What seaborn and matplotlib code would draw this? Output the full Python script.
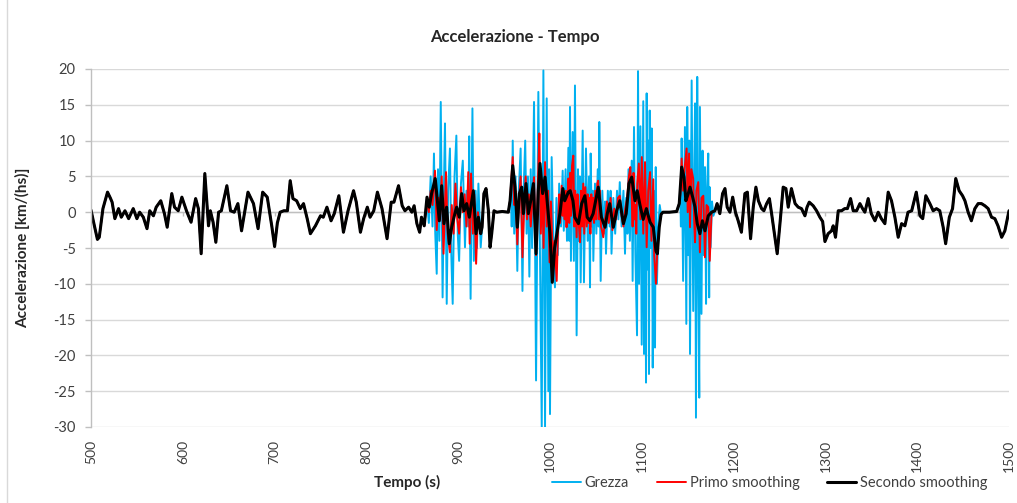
import numpy as np
import pandas as pd
import matplotlib
matplotlib.use("Agg")
import matplotlib.pyplot as plt
from matplotlib.patches import Rectangle
import seaborn as sns

# ---- data: time [s] and acceleration [km/(hs)] ----
# quiet stretch shared by all three series (500-863 s)
t_lead = [500, 503, 507, 509, 513, 518, 521, 523, 526, 530,
          533, 537, 541, 546, 550, 553, 557, 561, 564, 568,
          571, 576, 580, 583, 588, 591, 595, 599, 604, 609,
          614, 617, 620, 624, 628, 630, 633, 636, 639, 642,
          648, 652, 656, 660, 664, 671, 677, 682, 687, 692,
          697, 700, 703, 706, 710, 714, 717, 720, 724, 728,
          731.5, 735.5, 739, 744.5, 750, 753, 757, 761.5, 765, 770,
          775, 780, 786, 789, 793.5, 797, 801, 804, 808, 812,
          817, 822.5, 827, 830, 835, 839, 842, 846, 849.5, 852,
          855, 858, 860, 863]
v_lead = [0.3, -1.5, -3.8, -3.5, 0.5, 2.8, 2.0, 1.4, -0.9, 0.5,
          -0.7, 0.2, -0.9, 0.5, -0.9, 0.0, -0.7, -2.3, 0.2, -0.5,
          0.7, 1.6, -0.2, -2.1, 2.6, 0.7, 0.2, 2.1, 0.2, -1.4,
          1.9, 0.5, -5.8, 5.4, -1.9, 0.2, -1.4, -4.2, 0.0, 0.2,
          3.7, 0.2, 0.0, 1.2, -2.6, 2.8, 1.2, -2.3, 2.8, 2.1,
          -2.0, -4.8, -1.5, 0.0, 0.2, 0.2, 4.4, 1.9, 1.6, 0.5,
          1.2, -0.9, -3.0, -1.9, -0.5, -0.7, 0.7, -1.2, -0.2, 2.3,
          -2.8, 0.2, 3.0, 1.4, -2.8, -0.9, 0.7, -0.7, 0.2, 2.8,
          0.5, -3.7, 1.4, 1.4, 3.7, 0.9, 0.2, 0.7, 0.0, 0.9,
          -1.6, -2.8, -0.7, -1.9]

# calm pauses between the bursts, shared
t_calm_1 = [928, 930.3, 932.9, 934.7, 936.5, 939, 942, 948, 954.6]
v_calm_1 = [2.6, 3.3, 0.2, -4.9, -3.0, 0.2, 0.0, 0.1, 0.0]
t_calm_2 = [1123, 1130, 1138]
v_calm_2 = [0.0, 0.0, 0.1]

# quiet stretch shared by all three series (1182-1500 s)
t_tail = [1182, 1185, 1188, 1190.6, 1193, 1196, 1199, 1202, 1205, 1208.5,
          1212.3, 1215, 1218.5, 1221.4, 1224.3, 1227, 1230.5, 1233, 1236, 1239,
          1241.4, 1244, 1247.5, 1250.5, 1254, 1257, 1259.5, 1263, 1267, 1270.4,
          1274, 1277.7, 1280, 1282.4, 1286.7, 1290.4, 1294, 1297, 1299.5, 1303,
          1306.7, 1308.5, 1311, 1314, 1317.6, 1321, 1324, 1327.4, 1330.3, 1334,
          1337.6, 1340.5, 1343, 1346.6, 1350, 1354, 1357.5, 1361, 1364.8, 1368.4,
          1372, 1375.7, 1379.3, 1383, 1386.6, 1390, 1394, 1399, 1403, 1406,
          1409.4, 1413.8, 1417.4, 1421, 1424.6, 1428.3, 1431, 1435, 1438.5, 1442,
          1445.7, 1449.4, 1452, 1455.5, 1459, 1462.8, 1466.4, 1470, 1473.7, 1477.3,
          1481, 1484.6, 1488, 1492, 1495.5, 1500]
v_tail = [1.2, -0.2, 2.6, 3.3, 0.7, 0.0, 2.1, 0.0, -1.2, -2.8,
          2.6, 2.8, -3.7, 0.7, 3.5, 1.6, 0.5, 0.2, 1.2, 1.9,
          -0.2, -2.6, -5.8, -1.6, 3.5, 3.3, 0.7, 3.3, 1.2, 0.7,
          0.5, -0.5, 0.7, 1.4, 0.9, 0.2, -0.7, -1.3, -4.1, -3.0,
          -2.6, -1.9, -3.5, 0.2, 0.2, 0.5, 0.5, 1.9, 0.2, 0.2,
          1.2, 0.5, 0.0, 1.9, -0.2, -1.2, 0.0, -0.9, -1.6, 2.8,
          1.6, -0.7, -3.5, -1.6, -1.9, 0.0, 0.2, 2.8, -0.5, -0.9,
          2.3, 1.2, 0.2, 0.5, 0.2, -2.1, -4.4, -0.7, 0.5, 4.7,
          3.0, 2.3, 1.6, 0.0, -1.2, 0.5, 1.2, 1.2, 0.9, 0.5,
          -0.7, -0.9, -1.9, -3.5, -2.6, 0.2]

# raw signal ("Grezza") in the three bursts
t_raw_1 = [866, 868, 870, 872, 873.6, 875, 876.6, 878, 879.5, 881,
           883, 884.5, 885.6, 887.5, 889, 891, 892.5, 894, 896, 898,
           899.5, 901, 903, 905, 907.4, 909, 911, 912, 913.5, 915.5,
           917, 919, 920.5, 922, 924.5, 926]
v_raw_1 = [2.0, -1.5, 5.0, -2.0, 8.2, -3.0, -8.6, 6.0, -4.0, 15.4,
           -11.9, 4.0, 12.4, -12.8, 3.0, 8.9, -6.0, -12.8, 5.0, 10.7,
           -3.0, -6.8, 4.0, 7.2, -4.9, 3.0, -2.0, 10.6, -12.1, 14.5,
           -6.8, 3.0, -5.0, 4.0, -4.9, -2.1]
t_raw_2 = [956.5, 957.5, 958.3, 959.4, 961, 962.5, 964.4, 966, 968, 970,
           971.5, 973, 974.5, 976, 977.5, 979, 980.5, 982.6, 984.8, 987.3,
           989, 991, 992.8, 994.6, 996.4, 998.2, 999, 1000, 1001.8, 1003.5,
           1005.4, 1007, 1008.5, 1010, 1012, 1013.8, 1015, 1017, 1018.5, 1020,
           1021, 1021.8, 1022.8, 1024.7, 1026, 1027.2, 1029, 1030.5, 1031.5, 1032.5,
           1033.4, 1035.6, 1037, 1039.2, 1041, 1042.5, 1043.6, 1044.3, 1045.5, 1046.5,
           1047.2, 1049, 1050.5, 1052, 1053, 1053.7, 1055.2, 1057, 1058.5, 1060,
           1061, 1063, 1065, 1066, 1067, 1069, 1071, 1073, 1074.5, 1076,
           1078, 1080, 1081.7, 1083, 1084.3, 1085.5, 1087, 1089, 1090, 1091.5,
           1093, 1094.8, 1095.9, 1097, 1098.5, 1099.9, 1101.6, 1102.4, 1103.5, 1104.6,
           1105.3, 1106.5, 1107.2, 1107.8, 1108.6, 1109.5, 1110.8, 1111.9, 1113, 1114.4,
           1115.2, 1116.5, 1118, 1119.5, 1121]
v_raw_2 = [1.6, 3.0, -2.0, 10.0, -3.0, 5.0, -8.2, 3.0, 8.9, -11.0,
           4.0, 10.0, -3.0, 5.0, -9.0, 6.0, -5.0, 15.4, -23.5, 16.8,
           -5.0, -30.0, 19.8, -30.0, 15.9, -25.0, 6.0, -28.2, 7.7, -3.0,
           -10.5, 2.0, -6.0, 4.0, -2.0, 5.8, -2.6, 6.0, -4.0, 9.0,
           -4.0, 14.7, -6.8, 11.2, -6.8, 17.7, -17.2, 6.0, -4.0, 5.0,
           -9.8, 11.4, -9.8, 8.9, -4.0, 5.0, -10.5, 8.2, -2.0, 3.0,
           -6.8, 4.0, -3.0, 6.0, -2.0, 12.6, -9.6, 3.0, -3.0, 1.5,
           -5.8, 3.0, -2.0, 3.0, -5.8, 2.0, -3.0, 3.0, -1.0, 4.2,
           -2.0, 3.0, -5.8, 2.0, -3.0, 6.0, -4.0, 7.2, -9.6, 11.9,
           -6.0, -17.2, 19.7, -10.0, 12.0, -18.5, 15.5, -19.8, 5.0, -23.8,
           16.6, -8.0, 10.0, -22.6, 14.2, -5.0, 11.7, -21.7, 3.0, -18.9,
           6.3, -10.0, -2.0, 1.0, -0.3]
t_raw_3 = [1140.8, 1141.8, 1142.6, 1143.4, 1145, 1147, 1148.5, 1149.5, 1150.8, 1151.7,
           1152.5, 1154.3, 1156, 1157.2, 1158, 1159, 1160.4, 1161.5, 1162.6, 1163.3,
           1165, 1166.2, 1167.5, 1168.8, 1170, 1171, 1172.4, 1173.4, 1174, 1175,
           1176.5, 1178, 1179.7]
v_raw_3 = [1.2, 3.0, -2.0, 10.3, -9.6, 11.9, -15.6, 14.7, -6.0, 10.0,
           -19.8, 18.4, -13.8, 6.0, 15.2, -28.7, 18.9, -8.0, -25.9, 14.7,
           -14.2, 8.6, -6.0, 6.3, -12.8, 3.0, 8.2, -11.9, 3.5, -4.9,
           1.5, -0.5, 0.2]

# first smoothing ("Primo smoothing") in the three bursts
t_pri_1 = [866, 868, 870, 872, 874.7, 876.6, 878.5, 880, 882, 884,
           886.7, 888.5, 891, 893, 895, 897, 899, 901, 903, 905,
           907, 909, 911, 912.5, 914, 916, 917.5, 919.5, 921.5, 923,
           926]
v_pri_1 = [1.5, 0.0, 3.0, 1.0, 5.8, -2.5, 2.0, -1.0, 5.0, -5.8,
           5.6, -3.0, -5.6, 1.0, -3.0, 4.0, -1.0, -3.0, 3.5, 0.0,
           2.5, -2.0, 5.6, -4.4, 5.4, -3.0, 2.5, -7.2, 0.0, -2.0,
           -2.1]
t_pri_2 = [956.5, 959.4, 961, 962.5, 964.4, 966, 968, 970, 972, 973.5,
           975, 977, 979, 981, 982.6, 984.8, 987, 988.4, 990, 991.5,
           993, 994.6, 996.4, 998, 999.5, 1001, 1003, 1005, 1007.3, 1009,
           1010, 1011, 1012.7, 1013.8, 1014.8, 1016, 1017, 1018, 1019, 1020,
           1021, 1022, 1023, 1024, 1025.4, 1026.5, 1027.5, 1029, 1030, 1031,
           1032.7, 1033.8, 1035, 1036.2, 1037.3, 1038.5, 1040, 1041, 1042, 1043,
           1044, 1045, 1046, 1047, 1048, 1049.2, 1050.5, 1051.5, 1052.5, 1053.5,
           1054.5, 1055.5, 1056.5, 1058, 1060, 1062, 1064, 1066, 1068, 1070,
           1072, 1074, 1076, 1078, 1080, 1082, 1084, 1086, 1087.5, 1089,
           1090, 1091, 1092, 1093, 1094, 1095, 1096.8, 1098.5, 1100, 1101.6,
           1103.5, 1105.3, 1107, 1109, 1110.5, 1112.5, 1113.5, 1115.4, 1117, 1119,
           1121]
v_pri_2 = [1.6, 7.7, 1.0, 3.0, -4.5, 1.0, 5.0, -6.3, 1.0, 5.0,
           -1.0, 2.5, -2.0, 2.0, 4.9, -6.0, 5.0, 11.0, -3.0, 4.0,
           -5.0, 7.0, -2.0, 3.0, -7.0, 1.5, -6.0, -4.0, -9.6, -1.0,
           2.5, -1.5, 3.7, -0.5, 2.5, -1.0, 3.0, -2.1, 2.0, 4.7,
           -1.5, 5.5, -0.5, 6.5, 7.9, -2.0, 3.0, -3.5, 2.5, -1.0,
           -4.2, 3.0, -2.0, 4.0, -3.0, 3.5, -2.0, 2.5, -1.5, 2.0,
           -3.0, 2.5, -1.0, 2.0, -1.5, 3.0, -1.0, 4.0, 4.4, -1.0,
           3.0, -2.0, -2.5, -3.5, -1.0, 1.5, -1.5, 2.0, -2.5, 0.5,
           -1.0, 2.0, 2.3, -0.5, -2.0, 0.5, 2.0, 5.0, 6.3, 2.0,
           -2.0, 5.5, -1.0, 1.0, -3.0, 4.0, 6.8, -1.0, 7.7, -3.0,
           7.0, -4.9, 3.0, 5.6, -4.0, 4.6, -6.0, -10.0, -5.0, -2.0,
           -0.3]
t_pri_3 = [1140.8, 1142, 1143.4, 1145, 1146.5, 1148.8, 1150, 1151.5, 1152.5, 1154,
           1156, 1157, 1158, 1159.5, 1161.5, 1163.3, 1165, 1167, 1168.8, 1170.5,
           1172.4, 1174, 1176, 1179.7]
v_pri_3 = [1.2, 2.5, 7.5, 3.0, 6.0, 8.9, 0.0, 8.2, -2.1, 6.0,
           4.7, -1.0, -4.2, 3.0, 4.2, -5.6, 2.0, 2.3, -6.3, 1.0,
           0.7, -6.8, 0.0, 0.2]

# second smoothing ("Secondo smoothing") in the three bursts
t_sec_1 = [866, 868.5, 871, 875, 877.3, 879.4, 882, 884.5, 887.4, 890.3,
           892.9, 895.4, 898.3, 901.2, 903.8, 906.3, 909.2, 912.1, 916.5, 919.4,
           922, 924.5, 926]
v_sec_1 = [2.1, 0.7, 2.6, 4.7, 1.6, -1.2, 3.7, -1.6, 0.7, -4.4,
           -2.1, -0.7, 0.7, -0.7, 2.6, 0.2, 1.2, -0.7, 3.0, -3.0,
           -0.7, -3.0, -2.1]
t_sec_2 = [956.5, 959.4, 961.9, 964.4, 966.6, 969.2, 971, 973.9, 976.4, 979,
           981.9, 984.8, 987.3, 989.1, 992, 994.6, 997.1, 1000, 1002.5, 1005,
           1008, 1011, 1014, 1016, 1020, 1022, 1025, 1027, 1031, 1034.5,
           1038, 1040.5, 1043.5, 1047, 1052.6, 1056, 1060, 1062.4, 1065, 1069,
           1072.6, 1076, 1080, 1083, 1086, 1089, 1092.6, 1095, 1098, 1101.5,
           1105, 1109, 1112.5, 1115.4, 1117, 1119, 1121]
v_sec_2 = [1.6, 6.5, 3.5, -2.1, 2.6, 3.5, -0.2, 4.0, -0.2, 1.6,
           4.0, -5.8, 3.0, 6.8, 2.6, 4.9, 1.2, -3.0, -9.8, -5.0,
           -2.6, 0.0, 3.3, 1.6, 2.8, 3.0, 1.6, -0.7, -1.6, 1.2,
           2.3, -0.7, -1.2, -0.2, 3.5, -0.7, -2.1, -0.2, 1.2, -2.1,
           0.2, 1.6, -1.6, -0.2, 4.0, 4.9, 1.6, 3.0, 1.0, -1.0,
           0.5, -1.4, -2.1, -5.4, -5.8, -2.1, -0.3]
t_sec_3 = [1140.8, 1143.4, 1146, 1148, 1150.6, 1152.5, 1155.4, 1158, 1160.4, 1163.3,
           1166, 1168.8, 1172.4, 1176, 1179.7]
v_sec_3 = [1.2, 6.3, 4.9, 1.6, 2.6, 3.5, 2.1, 0.7, -1.6, -3.0,
           -1.2, -2.6, -0.5, 0.0, 0.2]

series_names = ["Grezza", "Primo smoothing", "Secondo smoothing"]
x_ticks = list(range(500, 1501, 100))
y_ticks = list(range(-30, 21, 5))


def assemble(*parts):
    t = np.concatenate([np.asarray(p[0], dtype=float) for p in parts])
    v = np.concatenate([np.asarray(p[1], dtype=float) for p in parts])
    return t, v


bursts = {
    "Grezza": [(t_raw_1, v_raw_1), (t_raw_2, v_raw_2), (t_raw_3, v_raw_3)],
    "Primo smoothing": [(t_pri_1, v_pri_1), (t_pri_2, v_pri_2), (t_pri_3, v_pri_3)],
    "Secondo smoothing": [(t_sec_1, v_sec_1), (t_sec_2, v_sec_2), (t_sec_3, v_sec_3)],
}

frames = []
for name in series_names:
    b1, b2, b3 = bursts[name]
    t, v = assemble((t_lead, v_lead), b1, (t_calm_1, v_calm_1), b2,
                    (t_calm_2, v_calm_2), b3, (t_tail, v_tail))
    frames.append(pd.DataFrame({"Tempo": t, "Accelerazione": v, "Serie": name}))
df = pd.concat(frames, ignore_index=True)

# ---- style ----
sns.set_theme(style="white")
plt.rcParams["font.family"] = ["Lato", "DejaVu Sans"]

W, H = 1017, 503
fig = plt.figure(figsize=(W / 100, H / 100), dpi=100)
fig.patch.set_facecolor("white")
ax = fig.add_axes([91 / W, 1 - 427 / H, 918 / W, 358 / H])

palette = {"Grezza": "#00B0F0", "Primo smoothing": "#FF0000", "Secondo smoothing": "#000000"}
sizes = {"Grezza": 1.4, "Primo smoothing": 1.4, "Secondo smoothing": 2.2}

sns.lineplot(data=df, x="Tempo", y="Accelerazione", hue="Serie", size="Serie",
             hue_order=series_names, size_order=series_names,
             palette=palette, sizes=sizes, estimator=None, sort=False,
             legend=False, ax=ax)
for ln in ax.get_lines():
    ln.set_solid_joinstyle("round")
    ln.set_solid_capstyle("round")

ax.set_xlim(500, 1500)
ax.set_ylim(-30, 20)
ax.set_xticks(x_ticks)
ax.set_yticks(y_ticks)
ax.set_xticklabels([str(x) for x in x_ticks], rotation=90)
ax.set_yticklabels([str(y) for y in y_ticks])

ax.yaxis.grid(True, color="#D9D9D9", linewidth=1.0)
ax.xaxis.grid(False)
ax.set_axisbelow(True)
for side in ["top", "right", "bottom"]:
    ax.spines[side].set_visible(False)
ax.spines["left"].set_color("#BFBFBF")
ax.spines["left"].set_linewidth(1.0)

# horizontal axis line crossing at zero, with its tick marks
ax.axhline(0, color="#BFBFBF", linewidth=1.0, zorder=1.5)
ax.vlines(ax.get_xticks(), -0.6, 0, color="#BFBFBF", linewidth=1.0, zorder=1.5)

ax.tick_params(axis="y", left=True, length=4, width=1, color="#BFBFBF",
               labelsize=10.5, labelcolor="#404040", pad=7)
ax.tick_params(axis="x", bottom=False, length=0, labelsize=10,
               labelcolor="#404040", pad=9)

ax.set_ylabel("Accelerazione [km/(hs)]", fontsize=11, fontweight="bold", color="#262626")
ax.yaxis.set_label_coords(-0.066, 0.5)
ax.set_xlabel("Tempo (s)", fontsize=11, fontweight="bold", color="#262626")
ax.xaxis.set_label_coords((407 - 91) / 918, (427 - 482) / 358)
ax.xaxis.label.set_va("center")

fig.text(515 / W, 1 - 37 / H, "Accelerazione - Tempo", ha="center", va="center",
         fontsize=12, fontweight="bold", color="#262626")

handles = ax.get_lines()[:3]
leg = ax.legend(handles, series_names, loc="center left",
                bbox_to_anchor=(552 / W, 1 - 483 / H), bbox_transform=fig.transFigure,
                ncol=3, frameon=False, fontsize=10.5, handlelength=2.0,
                handletextpad=0.25, columnspacing=1.9, borderpad=0, borderaxespad=0)
for txt in leg.get_texts():
    txt.set_color("#404040")

# chart-area border
fig.add_artist(Rectangle((7 / W, -0.02), 1.5, 1.04, transform=fig.transFigure,
                         fill=False, edgecolor="#D9D9D9", linewidth=1.0))

fig.savefig("out.png", dpi=100, facecolor="white")
